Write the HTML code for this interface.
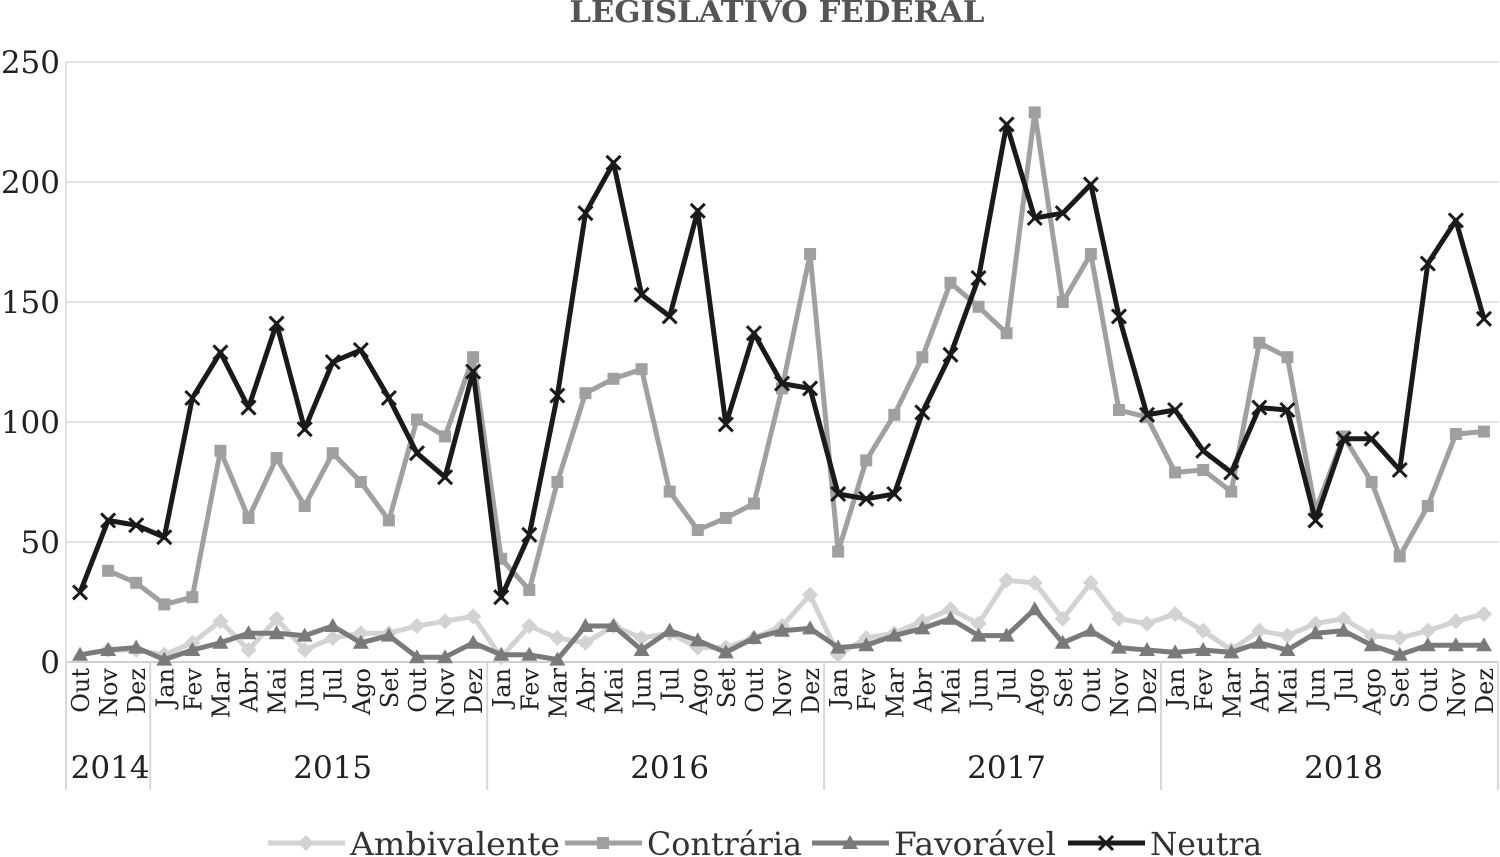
<!DOCTYPE html>
<html><head><meta charset="utf-8"><style>
html,body{margin:0;padding:0;background:#fff;}
svg{display:block;font-family:"DejaVu Serif","Liberation Serif",serif;}
</style></head><body>
<svg id="chart" width="1500" height="857" viewBox="0 0 1500 857">
<text x="777" y="22" text-anchor="middle" font-size="30" font-weight="bold" fill="#555" textLength="415" lengthAdjust="spacingAndGlyphs">LEGISLATIVO FEDERAL</text>
<g id="grid"></g><g id="xaxis"></g><g id="series"></g><g id="legend"></g>
</svg>
<script>
const months=["Out","Nov","Dez","Jan","Fev","Mar","Abr","Mai","Jun","Jul","Ago","Set","Out","Nov","Dez","Jan","Fev","Mar","Abr","Mai","Jun","Jul","Ago","Set","Out","Nov","Dez","Jan","Fev","Mar","Abr","Mai","Jun","Jul","Ago","Set","Out","Nov","Dez","Jan","Fev","Mar","Abr","Mai","Jun","Jul","Ago","Set","Out","Nov","Dez"];
const years=["2014","2015","2016","2017","2018"];
const yearStart=[0,3,15,27,39];
const yTicks=[0,50,100,150,200,250];
const ambivalente=[null,5,5,3,8,17,5,18,5,10,12,12,15,17,19,2,15,10,8,15,10,12,6,6,10,15,28,3,10,12,17,22,16,34,33,18,33,18,16,20,13,5,13,11,16,18,11,10,13,17,20];
const contraria=[null,38,33,24,27,88,60,85,65,87,75,59,101,94,127,43,30,75,112,118,122,71,55,60,66,114,170,46,84,103,127,158,148,137,229,150,170,105,102,79,80,71,133,127,63,94,75,44,65,95,96];
const favoravel=[3,5,6,1,5,8,12,12,11,15,8,11,2,2,8,3,3,1,15,15,5,13,9,4,10,13,14,6,7,11,14,18,11,11,22,8,13,6,5,4,5,4,8,5,12,13,7,3,7,7,7];
const neutra=[29,59,57,52,110,129,106,141,97,125,130,110,87,77,121,27,53,111,187,208,153,144,188,99,137,116,114,70,68,70,104,128,160,224,185,187,199,144,103,105,88,79,106,105,59,93,93,80,166,184,143];

const NS="http://www.w3.org/2000/svg";
const X0=66,X1=1498,Y0=662,YS=2.4;
const step=(X1-X0)/months.length;
const xs=i=>X0+step*(i+0.5);
const ys=v=>Y0-v*YS;
function mk(tag,attrs,parent){const e=document.createElementNS(NS,tag);for(const k in attrs)e.setAttribute(k,attrs[k]);parent.appendChild(e);return e;}
const grid=document.getElementById('grid'),xa=document.getElementById('xaxis'),sg=document.getElementById('series'),lg=document.getElementById('legend');
yTicks.forEach(t=>{
  const l=mk('line',{x1:X0,x2:X1,y1:ys(t),y2:ys(t),stroke:t===0?'#d0d0d0':'#e2e2e2','stroke-width':2},grid);
  
  
  const tx=mk('text',{x:60,y:ys(t)+11,'text-anchor':'end','font-size':31,fill:'#222'},grid);
  tx.textContent=t;
  
  
});
mk('line',{x1:X0,x2:X0,y1:62,y2:Y0,stroke:'#e2e2e2','stroke-width':2},grid);
months.forEach((m,i)=>{
  const x=xs(i);
  const t=mk('text',{x:0,y:0,transform:`translate(${x+9},${Y0+6}) rotate(-90)`,'text-anchor':'end','font-size':24,fill:'#222'},xa);
  t.textContent=m;
  
  
});
const bounds=yearStart.concat([months.length]);
bounds.forEach(b=>{
  const x=X0+step*b;
  const l=mk('line',{x1:x,x2:x,y1:Y0,y2:790,stroke:'#d8d8d8','stroke-width':2},xa);
  
  
});
years.forEach((y,i)=>{
  const cx=X0+step*(bounds[i]+bounds[i+1])/2+(i>0?14:2);
  const t=mk('text',{x:cx,y:778,'text-anchor':'middle','font-size':31,fill:'#222'},xa);
  t.textContent=y;
  
  
});
function marker(type,x,y,color,parent){
  let e;
  if(type==='diamond')e=mk('polygon',{points:`${x},${y-8} ${x+8},${y} ${x},${y+8} ${x-8},${y}`,fill:color},parent);
  else if(type==='square')e=mk('rect',{x:x-6,y:y-6,width:12,height:12,fill:color},parent);
  else if(type==='triangle')e=mk('polygon',{points:`${x},${y-8} ${x+8},${y+6} ${x-8},${y+6}`,fill:color},parent);
  else e=mk('path',{d:`M${x-7},${y-7}L${x+7},${y+7}M${x+7},${y-7}L${x-7},${y+7}`,stroke:color,'stroke-width':3},parent);
  return e;
}
const defs=[["Ambivalente",ambivalente,'#d3d3d3','diamond'],["Contrária",contraria,'#a0a0a0','square'],["Favorável",favoravel,'#7a7a7a','triangle'],["Neutra",neutra,'#1a1a1a','x']];
defs.forEach(([name,data,color,mt])=>{
  const g=mk('g',{},sg);
  
  
  let d='';
  data.forEach((v,i)=>{if(v===null)return;d+=(d?'L':'M')+xs(i)+','+ys(v);});
  mk('path',{d:d,fill:'none',stroke:color,'stroke-width':5,'stroke-linejoin':'round'},g);
  data.forEach((v,i)=>{if(v===null)return;
    const m=marker(mt,xs(i),ys(v),color,g);
    
    
  });
});
const lx=[268,565,812,1068];
const lw=[210,155,162,112];
defs.forEach(([name,data,color,mt],i)=>{
  const g=mk('g',{},lg);
  
  
  mk('line',{x1:lx[i],x2:lx[i]+77,y1:843,y2:843,stroke:color,'stroke-width':5},g);
  marker(mt,lx[i]+38,843,color,g);
  const t=mk('text',{x:lx[i]+82,y:855,'font-size':32,fill:'#333',textLength:lw[i],lengthAdjust:'spacingAndGlyphs'},g);
  t.textContent=name;
});
</script>
</body></html>
